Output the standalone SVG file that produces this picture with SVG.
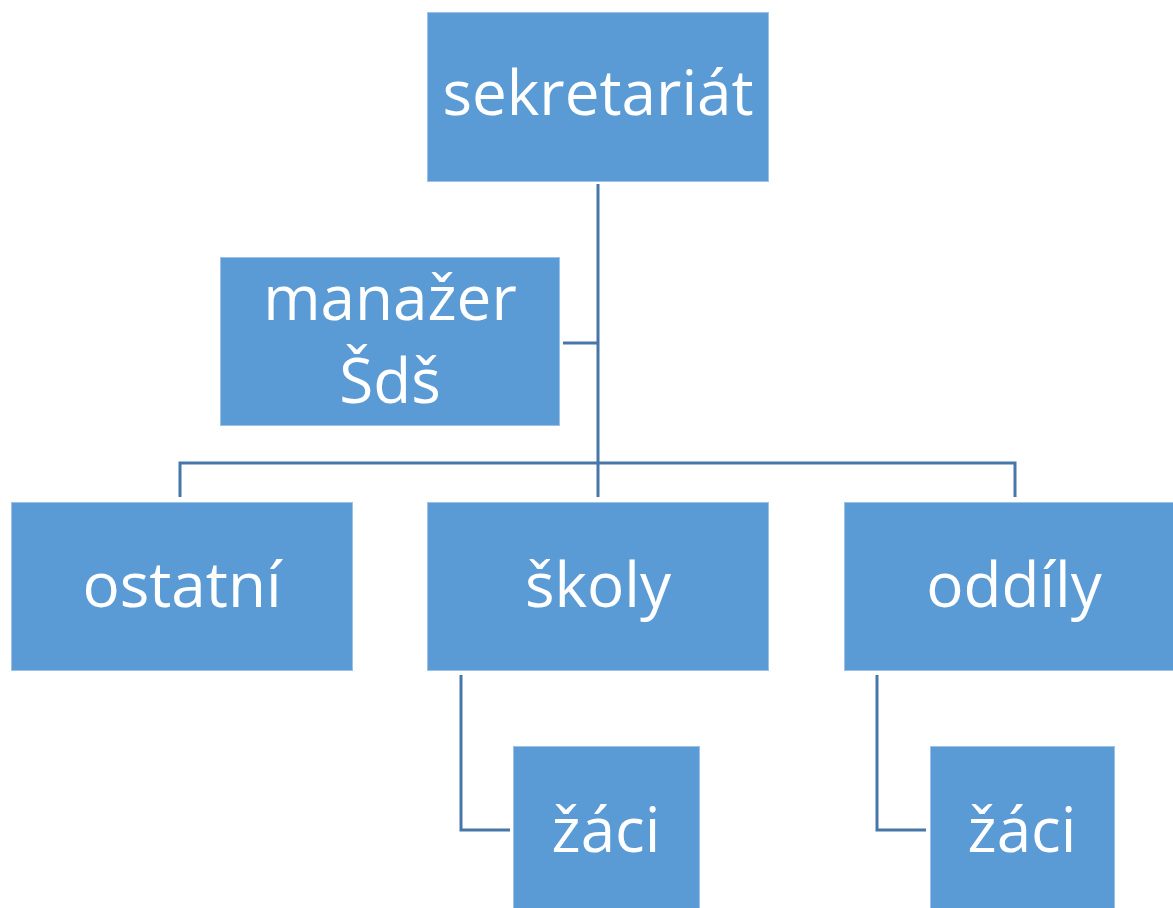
<svg xmlns="http://www.w3.org/2000/svg" width="1173" height="908" viewBox="0 0 1173 908">
<style>
.box{fill:#5B9BD5;stroke:#9CC2E8;stroke-width:1}
.lbl{font-family:"Open Sans","Liberation Sans",sans-serif;font-size:62px;fill:#FFFFFF;text-anchor:middle}
.con{fill:none;stroke:#4677A8;stroke-width:3}
</style>
<rect width="1173" height="908" fill="#FFFFFF"/>
<g id="connectors">
<path class="con" d="M598 184 V497"/>
<path class="con" d="M563 343 H598"/>
<path class="con" d="M180 497 V463 H1015 V497"/>
<path class="con" d="M461 675 V830 H510"/>
<path class="con" d="M877 675 V830 H926"/>
</g>
<g id="sekretariat"><rect class="box" x="427.5" y="12.5" width="341" height="169"/><text class="lbl" x="598" y="115">sekretariát</text></g>
<g id="manazer"><rect class="box" x="220.5" y="257.5" width="339" height="168"/><text class="lbl" x="390" y="320">manažer</text><text class="lbl" x="390" y="403">Šdš</text></g>
<g id="ostatni"><rect class="box" x="11.5" y="502.5" width="341" height="168"/><text class="lbl" x="182" y="607">ostatní</text></g>
<g id="skoly"><rect class="box" x="427.5" y="502.5" width="341" height="168"/><text class="lbl" x="598" y="607">školy</text></g>
<g id="oddily"><rect class="box" x="844.5" y="502.5" width="341" height="168"/><text class="lbl" x="1014" y="607">oddíly</text></g>
<g id="zaci1"><rect class="box" x="513.5" y="746.5" width="186" height="170"/><text class="lbl" x="606" y="852">žáci</text></g>
<g id="zaci2"><rect class="box" x="930.5" y="746.5" width="184" height="170"/><text class="lbl" x="1022" y="852">žáci</text></g>
</svg>
